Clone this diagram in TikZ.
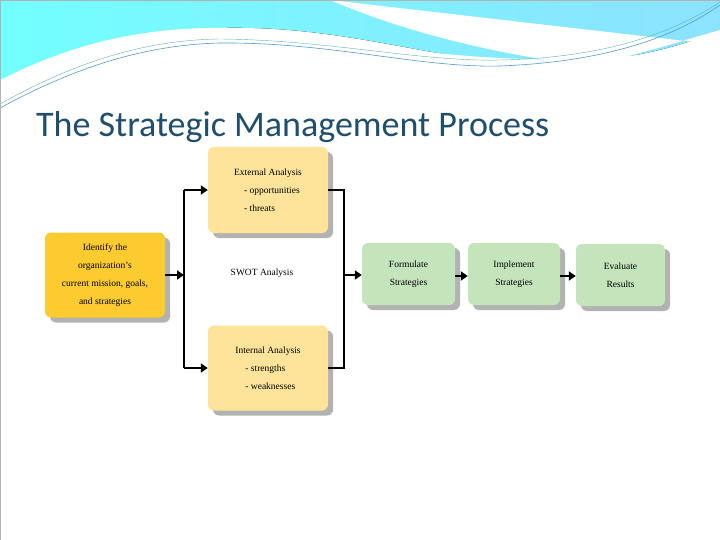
\documentclass[tikz,border=0pt]{standalone}
\usepackage{fontspec}
\setmainfont{Liberation Serif}
\newfontfamily\titlefont{Carlito}
\usetikzlibrary{arrows.meta,shadows}
\definecolor{gold}{HTML}{FCCB30}
\definecolor{lyel}{HTML}{FDE49A}
\definecolor{lgrn}{HTML}{C4E5BC}
\definecolor{ttl}{HTML}{1F4E6E}
\begin{document}
\begin{tikzpicture}[x=1pt,y=-1pt,
  box/.style={rounded corners=6pt,draw=none,align=center,font=\fontsize{9.5}{18}\selectfont,
    drop shadow={shadow xshift=5pt,shadow yshift=-5pt,fill=black!30,opacity=1}},
  conn/.style={line width=2.6pt},
  arr/.style={line width=2.6pt,-{Triangle[length=7pt,width=9pt]}}]
\useasboundingbox (0,0) rectangle (720,540);
\fill[white] (0,0) rectangle (720,540);
% banner
\fill[left color=cyan!55!white,right color=blue!25!cyan!45!white] (0,0) -- (720,0) -- (720,30)
  .. controls (650,60) and (560,70) .. (480,60) .. controls (380,45) and (300,20) .. (180,30)
  .. controls (90,40) and (40,70) .. (0,100) -- cycle;
\fill[white] (330,0) .. controls (400,30) and (480,50) .. (560,62) .. controls (600,68) and (650,50) .. (720,30) -- (720,45)
  .. controls (650,70) and (560,80) .. (480,72) .. controls (380,62) and (300,20) .. (180,34)
  .. controls (100,45) and (40,75) .. (0,100) -- (0,110) -- (720,110) -- (720,45) -- cycle;
\fill[white] (0,80) -- (0,110) -- (720,110) -- (720,40) .. controls (650,58) and (580,62) .. (500,58)
  .. controls (380,52) and (330,32) .. (230,28) .. controls (130,26) and (60,50) .. (0,80);
\draw[cyan!60!blue!70,line width=0.6pt] (0,108) .. controls (70,70) and (140,45) .. (220,43)
  .. controls (330,42) and (420,68) .. (500,66) .. controls (600,62) and (670,40) .. (720,5);
\draw[teal!60,line width=0.4pt] (0,104) .. controls (70,65) and (140,40) .. (220,39)
  .. controls (330,40) and (420,62) .. (500,60) .. controls (600,58) and (670,35) .. (720,2);
\draw[gray!60] (0,0) rectangle (720,540);
% title
\node[anchor=base west,font=\titlefont\fontsize{36}{37}\selectfont,text=ttl,inner sep=0] (title) at (36,137) {The Strategic Management Process};
% boxes
\node[box,fill=gold,minimum width=120pt,minimum height=85pt] (id) at (105,275)
 {Identify the\\organization's\\current mission, goals,\\and strategies};
\node[box,fill=lyel,minimum width=120pt,minimum height=86pt,align=left] (ext) at (268,190)
 {External Analysis\\\hspace{10pt}- opportunities\\\hspace{10pt}- threats};
\node[box,fill=lyel,minimum width=120pt,minimum height=85pt,align=left] (int) at (268,368)
 {Internal Analysis\\\hspace{10pt}- strengths\\\hspace{10pt}- weaknesses};
\node[font=\fontsize{9.5}{10}\selectfont] (swot) at (262,273) {SWOT Analysis};
\node[box,fill=lgrn,minimum width=93pt,minimum height=62pt] (form) at (408.5,274) {Formulate\\Strategies};
\node[box,fill=lgrn,minimum width=92pt,minimum height=62pt] (impl) at (514,274) {Implement\\Strategies};
\node[box,fill=lgrn,minimum width=89pt,minimum height=62pt] (eval) at (620.5,275) {Evaluate\\Results};
% connectors
\coordinate (lb) at (184,275);
\coordinate (lt) at (184,190);
\coordinate (lbot) at (184,368);
\coordinate (rb) at (344,275);
\coordinate (rt) at (344,190);
\coordinate (rbot) at (344,368);
\draw[arr] (id.east |- lb) -- (lb);
\draw[conn] (lt) -- (lbot);
\draw[arr] (lt) -- (ext.west);
\draw[arr] (lbot) -- (int.west);
\draw[conn,line join=miter] (ext.east) -- (rt) -- (rbot) -- (int.east);
\draw[arr] (rb) -- (form.west |- rb);
\draw[arr] (form.east |- 0,276) -- (impl.west |- 0,276);
\draw[arr] (impl.east |- 0,276) -- (eval.west |- 0,276);
\end{tikzpicture}
\end{document}
